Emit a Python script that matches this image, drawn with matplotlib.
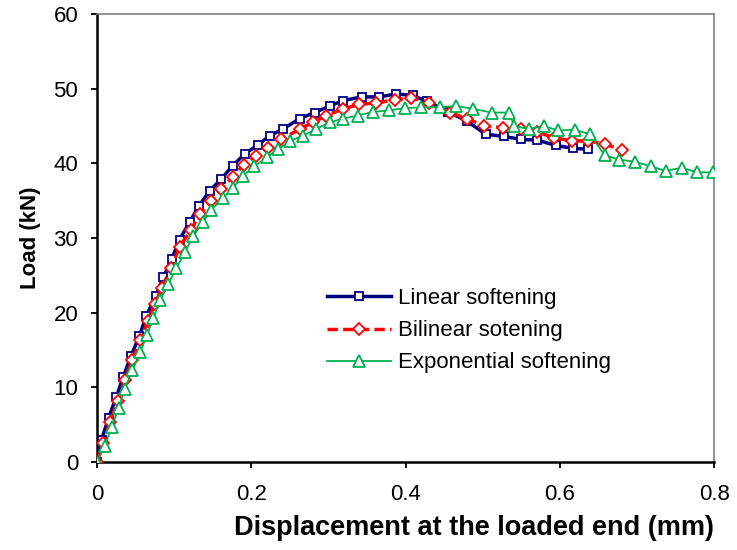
import matplotlib.pyplot as plt

plt.rcParams['font.family'] = ['Liberation Sans', 'DejaVu Sans']

# linear softening
x_lin = [0, 0.006, 0.015, 0.025, 0.034, 0.044, 0.055, 0.064, 0.076, 0.086,
         0.097, 0.107, 0.120, 0.132, 0.146, 0.161, 0.176, 0.192, 0.209, 0.224,
         0.241, 0.263, 0.282, 0.302, 0.319, 0.343, 0.366, 0.388, 0.409, 0.428,
         0.455, 0.479, 0.504, 0.528, 0.550, 0.571, 0.595, 0.617, 0.636]
y_lin = [0, 3.0, 5.9, 8.7, 11.4, 14.2, 16.9, 19.6, 22.2, 24.8,
         27.2, 29.8, 32.1, 34.3, 36.3, 37.9, 39.7, 41.3, 42.5, 43.7,
         44.6, 46.0, 46.8, 47.7, 48.4, 48.9, 48.9, 49.3, 49.1, 48.3,
         46.9, 45.7, 43.9, 43.6, 43.2, 43.1, 42.4, 42.0, 41.9]

# bilinear softening
x_bil = [0, 0.008, 0.017, 0.027, 0.036, 0.046, 0.056, 0.066, 0.075, 0.084,
         0.096, 0.107, 0.122, 0.133, 0.148, 0.161, 0.176, 0.190, 0.206, 0.222,
         0.239, 0.263, 0.280, 0.297, 0.319, 0.340, 0.362, 0.386, 0.407, 0.431,
         0.457, 0.479, 0.502, 0.526, 0.550, 0.571, 0.593, 0.616, 0.637, 0.658,
         0.680]
y_bil = [0, 2.6, 5.4, 8.2, 11.0, 13.7, 16.3, 18.9, 21.2, 23.3,
         26.0, 28.8, 31.1, 33.2, 35.0, 36.6, 38.2, 39.8, 41.0, 42.1,
         43.2, 44.6, 45.5, 46.4, 47.3, 47.9, 48.1, 48.5, 48.8, 48.1,
         46.8, 46.0, 45.0, 44.8, 44.6, 44.2, 43.4, 43.0, 43.0, 42.6,
         41.8]

# exponential softening
x_exp = [0, 0.010, 0.019, 0.028, 0.036, 0.046, 0.056, 0.065, 0.073, 0.082,
         0.092, 0.103, 0.114, 0.125, 0.137, 0.148, 0.163, 0.176, 0.189, 0.204,
         0.220, 0.235, 0.250, 0.267, 0.284, 0.302, 0.319, 0.338, 0.358, 0.379,
         0.399, 0.420, 0.444, 0.465, 0.487, 0.512, 0.534, 0.541, 0.560, 0.579,
         0.598, 0.619, 0.639, 0.658, 0.677, 0.698, 0.718, 0.737, 0.758, 0.778,
         0.798]
y_exp = [0, 2.1, 4.7, 7.2, 9.8, 12.3, 14.7, 17.0, 19.3, 21.7,
         23.8, 26.0, 28.1, 30.3, 32.1, 33.8, 35.3, 36.7, 38.3, 39.6,
         40.8, 41.9, 43.0, 43.7, 44.6, 45.5, 46.0, 46.4, 46.9, 47.1,
         47.4, 47.5, 47.5, 47.7, 47.3, 46.8, 46.8, 45.0, 44.6, 45.0,
         44.4, 44.5, 43.9, 41.1, 40.5, 40.2, 39.6, 39.0, 39.4, 38.8,
         38.8]

fig = plt.figure(figsize=(7.37, 5.5), dpi=100)
ax = fig.add_axes([0.1316, 0.16, 0.8374, 0.8145])

ax.plot(x_lin, y_lin, color='#000080', lw=2.5, marker='s', ms=6,
        mfc='white', mec='#000080', mew=1.3, label='Linear softening', zorder=3)
ax.plot(x_bil, y_bil, color='#FF0000', lw=2.5, ls=(0, (3, 1.5)), marker='D', ms=6,
        mfc='white', mec='#FF0000', mew=1.3, label='Bilinear sotening', zorder=4)
ax.plot(x_exp, y_exp, color='#00B050', lw=1.3, marker='^', ms=8,
        mfc='white', mec='#00B050', mew=1.3, label='Exponential softening', zorder=5)

ax.set_xlim(0, 0.8)
ax.set_ylim(0, 60)
ax.set_xticks([0, 0.2, 0.4, 0.6, 0.8])
ax.set_xticklabels(['0', '0.2', '0.4', '0.6', '0.8'])
ax.set_yticks(range(0, 61, 10))
ax.tick_params(direction='out', length=4.5, width=1.3, labelsize=16)
ax.tick_params(axis='x', pad=11)
ax.tick_params(axis='y', pad=9)

ax.spines['left'].set_linewidth(1.8)
ax.spines['bottom'].set_linewidth(1.8)
for s in ['top', 'right']:
    ax.spines[s].set_color('#808080')
    ax.spines[s].set_linewidth(1.2)

ax.set_xlabel('Displacement at the loaded end (mm)', fontsize=19.5, fontweight='bold')
ax.xaxis.set_label_coords(0.611, -0.118)
ax.set_ylabel('Load (kN)', fontsize=16, fontweight='bold', labelpad=9)

fig.legend(loc='upper left', bbox_to_anchor=(0.4437, 0.476), frameon=False,
           borderpad=0, borderaxespad=0,
           fontsize=16, handlelength=2.9, handletextpad=0.3, labelspacing=0.5)

fig.savefig('out.png', dpi=100)
